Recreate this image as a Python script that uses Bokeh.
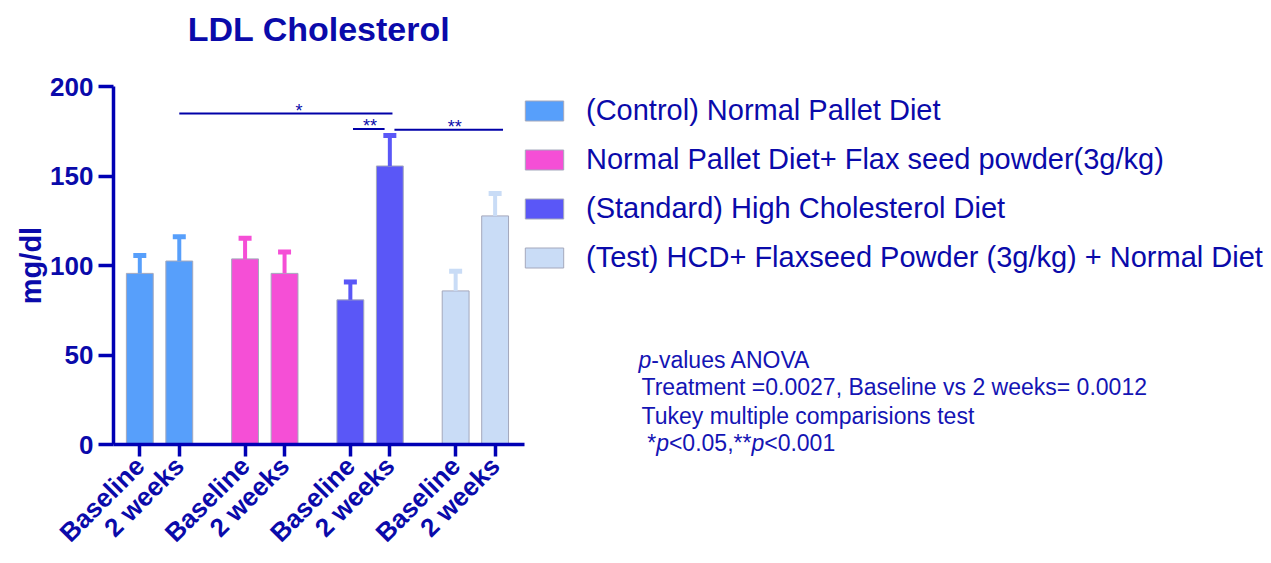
import math
from bokeh.plotting import figure
from bokeh.models import Legend, LegendItem, Label, Range1d, FixedTicker
from bokeh.core.properties import value
from bokeh.embed import file_html
from bokeh.resources import INLINE

# ---------------- data ----------------
groups = [
    "(Control) Normal Pallet Diet",
    "Normal Pallet Diet+ Flax seed powder(3g/kg)",
    "(Standard) High Cholesterol Diet",
    "(Test) HCD+ Flaxseed Powder (3g/kg) + Normal Diet",
]
times = ["Baseline", "2 weeks"]
means = [95.6, 102.5, 103.7, 95.6, 80.8, 155.6, 85.8, 127.7]
errors = [10.0, 13.5, 11.5, 12.0, 10.0, 17.0, 11.0, 12.5]
group_colors = ["#579FFB", "#F54FD6", "#5A57F7", "#C9DCF6"]
y_ticks = [0, 50, 100, 150, 200]
# significance brackets: (from bar, to bar, height, text)
brackets = [(1, 5, 184.9, "*"), (4, 5, 176.2, "**"), (5, 7, 175.8, "**")]
bracket_trim = [(0.0, 0.2), (0.2, -0.4), (0.35, 0.6)]
bracket_text_shift = [1.0, 0.1, 0.45]
stats_lines = [
    [("p", "italic"), ("-values ANOVA", "normal")],
    [("Treatment =0.0027, Baseline vs 2 weeks= 0.0012", "normal")],
    [("Tukey multiple comparisions test", "normal")],
    [("*", "normal"), ("p", "italic"), ("<0.05,**", "normal"), ("p", "italic"), ("<0.001", "normal")],
]
title_text = "LDL Cholesterol"
y_label = "mg/dl"

# ---------------- layout (page pixels) and styles ----------------
FONT = "Liberation Sans"
AXIS_C = "#0000B4"
TEXT_C = "#0A0AAA"
STAT_C = "#1414B4"
W, H = 1271, 563
AX_LEFT, AX_RIGHT = 113, 524      # x-axis extent
AX_TOP, AX_BOT = 86, 444          # y = 200 and y = 0
FIRST_BAR = 139.3                 # centre of first bar
X_PX = 13.16                      # pixels per x unit
Y_PX = (AX_BOT - AX_TOP) / 200.0  # pixels per mg/dl

def px_to_x(px):
    return (px - FIRST_BAR) / X_PX

def py_to_y(py):
    return (AX_BOT - py) / Y_PX

n_g = len(groups)
xs = [g * 8 + i * 3 for g in range(n_g) for i in range(len(times))]
bar_colors = [group_colors[g] for g in range(n_g) for _ in times]
tops = [m + e for m, e in zip(means, errors)]

p = figure(width=W, height=H,
           x_range=Range1d(px_to_x(0), px_to_x(W)), y_range=Range1d(py_to_y(H), py_to_y(0)),
           output_backend="svg", toolbar_location=None, min_border=0)
p.outline_line_color = None
p.grid.visible = False
p.background_fill_color = "white"

bars = p.vbar(x=xs, top=means, width=2.04, fill_color=bar_colors, line_color="#A4A8BC", line_width=1)
p.segment(x0=xs, y0=means, x1=xs, y1=tops, line_color=bar_colors, line_width=4)
p.rect(x=xs, y=tops, width=13, height=5, width_units="screen", height_units="screen",
       fill_color=bar_colors, line_color=None)

# significance brackets
bx0, bx1, by, bt, bm = [], [], [], [], []
for (a, b, yv, t), (o0, o1), sh in zip(brackets, bracket_trim, bracket_text_shift):
    x0 = xs[a] + o0
    x1 = xs[b] + o1
    bx0.append(x0); bx1.append(x1); by.append(yv); bt.append(t); bm.append((x0 + x1) / 2 + sh)
p.segment(x0=bx0, y0=by, x1=bx1, y1=by, line_color="#0000A8", line_width=2)
p.text(x=bm, y=by, text=bt, text_align="center", text_baseline="alphabetic", y_offset=-3,
       text_font=value(FONT), text_font_size="18px", text_color=TEXT_C)

# axes (placed at fixed data locations inside the full-canvas frame)
p.yaxis.ticker = FixedTicker(ticks=y_ticks)
p.yaxis.bounds = (0, 200)
p.yaxis.fixed_location = px_to_x(AX_LEFT)
p.xaxis.ticker = FixedTicker(ticks=xs)
p.xaxis.bounds = (px_to_x(AX_LEFT), px_to_x(AX_RIGHT))
p.xaxis.fixed_location = 0
p.xaxis.major_label_overrides = {x: times[k % len(times)] for k, x in enumerate(xs)}
for ax in (p.xaxis[0], p.yaxis[0]):
    ax.axis_line_color = AXIS_C
    ax.axis_line_width = 3.5
    ax.major_tick_line_color = AXIS_C
    ax.major_tick_line_width = 3.5
    ax.major_tick_in = 0
    ax.minor_tick_line_color = None
    ax.major_label_text_font = FONT
    ax.major_label_text_font_style = "bold"
    ax.major_label_text_color = TEXT_C
p.yaxis.major_tick_out = 15
p.yaxis.major_label_text_font_size = "26px"
p.yaxis.major_label_standoff = 5
p.xaxis.major_tick_out = 12
p.xaxis.major_label_text_font_size = "26px"
p.xaxis.major_label_orientation = math.pi / 4
p.xaxis.major_label_standoff = 5

# title and y-axis label (y gives the text's vertical centre)
p.add_layout(Label(x=(AX_LEFT + AX_RIGHT) / 2, y=H - 28.5, x_units="screen", y_units="screen",
                   text=title_text, text_align="center", text_baseline="middle",
                   text_font=FONT, text_font_size="34px", text_font_style="bold",
                   text_color=TEXT_C))
p.add_layout(Label(x=30, y=H - (AX_TOP + AX_BOT) / 2, x_units="screen", y_units="screen",
                   text=y_label, angle=math.pi / 2, text_align="center",
                   text_baseline="middle", text_font=FONT, text_font_size="29px",
                   text_font_style="bold", text_color=TEXT_C))

# legend
items = [LegendItem(label=g, renderers=[bars], index=k * len(times)) for k, g in enumerate(groups)]
legend = Legend(items=items, location=(520, H - 280), glyph_width=48, glyph_height=25,
                label_standoff=18, label_height=46, spacing=3, padding=0, margin=0,
                border_line_alpha=0, background_fill_alpha=0,
                label_text_font=FONT, label_text_font_size="29px", label_text_color=TEXT_C)
p.add_layout(legend)

# statistics note
AW = {"p": 0.556, "*": 0.389, "<": 0.584, "0": 0.556, ".": 0.278, "5": 0.556, ",": 0.278,
      "1": 0.556, "-": 0.333}
def seg_width(s, size):
    return sum(AW.get(c, 0.556) for c in s) * size

STAT_SIZE = 23
line_x = [638.0, 641.0, 641.0, 646.7]
line_y = [359.5, 386.5, 415.0, 442.0]
for ln, lx, ly in zip(stats_lines, line_x, line_y):
    cx = lx
    for s, style in ln:
        p.add_layout(Label(x=cx, y=H - ly, x_units="screen", y_units="screen", text=s,
                           text_align="left", text_baseline="middle",
                           text_font=FONT, text_font_size=f"{STAT_SIZE}px",
                           text_font_style=style, text_color=STAT_C))
        cx += seg_width(s, STAT_SIZE)

open("out.html", "w").write(file_html(p, INLINE))
